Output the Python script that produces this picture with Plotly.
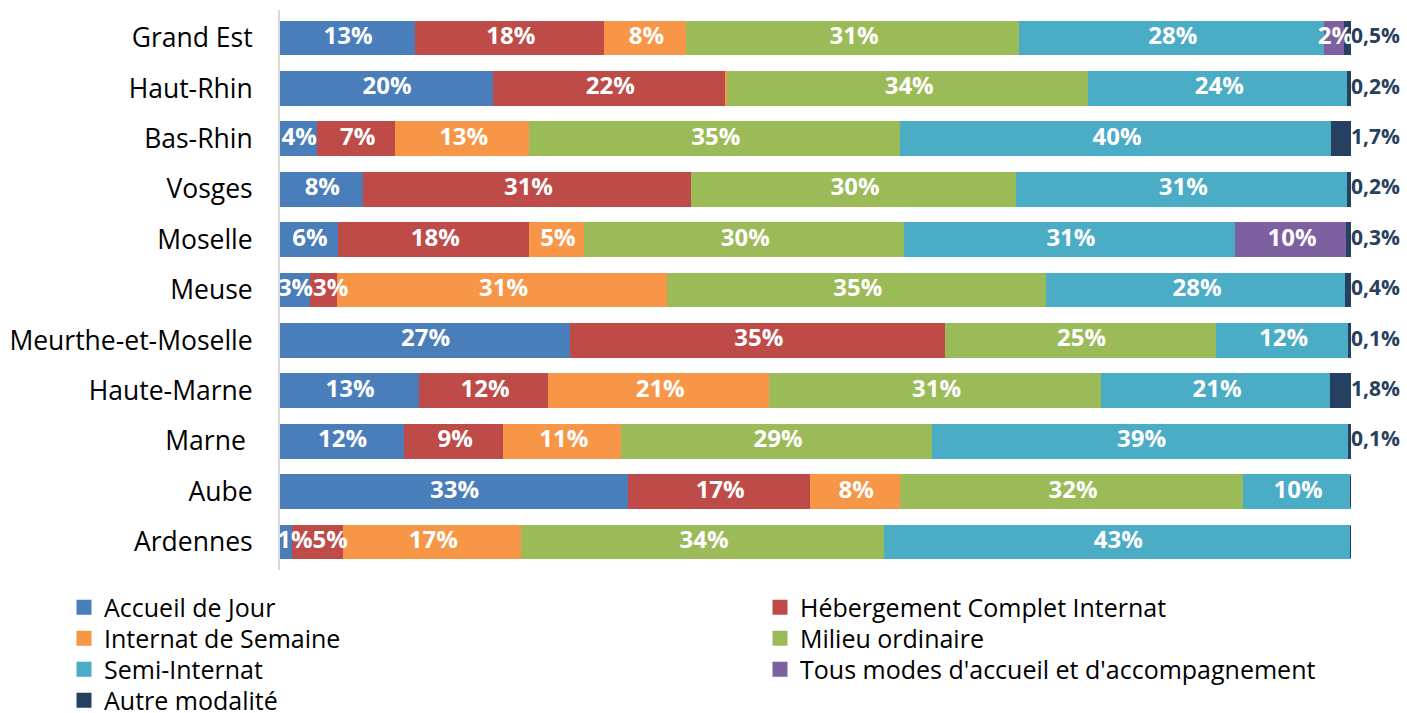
import plotly.graph_objects as go

categories = ["Grand Est", "Haut-Rhin", "Bas-Rhin", "Vosges", "Moselle", "Meuse",
              "Meurthe-et-Moselle", "Haute-Marne", "Marne ", "Aube", "Ardennes"]

accueil_jour = [12.7, 20.0, 3.6, 7.9, 5.6, 2.9, 27.2, 13.1, 11.7, 32.6, 1.3]
hebergement = [17.6, 21.7, 7.3, 30.6, 17.8, 2.6, 35.0, 12.1, 9.3, 17.0, 4.7]
internat_semaine = [7.7, 0.2, 12.5, 0.0, 5.1, 30.7, 0.0, 20.6, 11.0, 8.4, 16.6]
milieu_ordinaire = [31.0, 33.7, 34.6, 30.4, 29.9, 35.4, 25.3, 31.0, 29.0, 32.1, 33.9]
semi_internat = [28.4, 24.2, 40.3, 30.9, 30.9, 27.9, 12.4, 21.4, 38.9, 9.9, 43.4]
tous_modes = [1.9, 0.0, 0.0, 0.0, 10.4, 0.0, 0.0, 0.0, 0.0, 0.0, 0.0]
autre = [0.5, 0.2, 1.7, 0.2, 0.3, 0.4, 0.1, 1.8, 0.1, 0.0, 0.0]

# name, values, colour, legend grid slot (column, row)
series = [
    ("Accueil de Jour", accueil_jour, "#4A7EBB", (0, 0)),
    ("Hébergement Complet Internat", hebergement, "#BE4B48", (1, 0)),
    ("Internat de Semaine", internat_semaine, "#F79646", (0, 1)),
    ("Milieu ordinaire", milieu_ordinaire, "#9BBB59", (1, 1)),
    ("Semi-Internat", semi_internat, "#4BACC6", (0, 2)),
    ("Tous modes d'accueil et d'accompagnement", tous_modes, "#7D60A0", (1, 2)),
    ("Autre modalité", autre, "#254061", (0, 3)),
]

FONT = "Open Sans"
W, H = 1407, 713
MARGIN_L, MARGIN_R = 280, 56
PLOT_W = W - MARGIN_L - MARGIN_R
LEG_X = [104 - 40, 800 - 40]      # px, left of legend entries (text starts 40px later)
LEG_Y0, LEG_DY = 607.5, 31        # px, centre of first legend row and row pitch


def label_width(t):
    """Approximate width of a bold 24px label, in axis units (0-100)."""
    px = (len(t) - 1) * 13.7 + 21.5
    return px * 100.0 / PLOT_W


# 100 % stacked: each category is scaled so that its segments add up to 100
totals = [sum(s[1][i] for s in series) for i in range(len(categories))]


def share(vals):
    return [v * 100.0 / t for v, t in zip(vals, totals)]


def pct_label(v):
    return f"{int(v + 0.5)}%" if v >= 1 else ""


fig = go.Figure()
legends = {}
cum = [0.0] * len(categories)
row_labels = [[] for _ in categories]
for k, (name, vals, color, (col, row)) in enumerate(series):
    sh = share(vals)
    lg = "legend" if k == 0 else f"legend{k + 1}"
    fig.add_trace(go.Bar(
        y=categories, x=sh, name=name, orientation="h",
        marker=dict(color=color, line=dict(width=3, color=color)),
        legend=lg, hoverinfo="skip",
    ))
    if name != "Autre modalité":
        for i, (v, s) in enumerate(zip(vals, sh)):
            t = pct_label(v)
            if t:
                row_labels[i].append([cum[i] + s / 2, t])
    cum = [round(c + s, 9) for c, s in zip(cum, sh)]
    legends[lg] = dict(
        orientation="v", font=dict(family=FONT, size=25, color="#000000"),
        xref="container", yref="container", xanchor="left", yanchor="middle",
        x=LEG_X[col] / W, y=1 - (LEG_Y0 + row * LEG_DY) / H,
        bgcolor="rgba(0,0,0,0)", borderwidth=0, itemclick=False,
    )

# keep labels inside the axis on the left and side by side when segments are tiny
lab_x, lab_y, lab_t = [], [], []
for i, labs in enumerate(row_labels):
    prev = None
    for lab in labs:
        x, t = lab
        x = max(x, label_width(t) / 2 * 0.85)
        if prev is not None:
            x = max(x, prev[0] + (label_width(prev[1]) + label_width(t)) / 2)
        prev = (x, t)
        lab_x.append(x)
        lab_y.append(categories[i])
        lab_t.append(t)

# inside labels (white, bold) drawn above every bar
fig.add_trace(go.Scatter(
    x=lab_x, y=lab_y, text=lab_t, mode="text", textposition="middle center",
    textfont=dict(family=FONT, size=24, color="white", weight="bold"),
    showlegend=False, cliponaxis=False, hoverinfo="skip",
))

# "Autre modalité" labels, right of each bar
out_idx = [i for i, v in enumerate(autre) if v > 0]
fig.add_trace(go.Scatter(
    x=[min(cum[i], 100.0) for i in out_idx], y=[categories[i] for i in out_idx],
    text=[f"{autre[i]:.1f}%".replace(".", ",") for i in out_idx],
    mode="text", textposition="middle right",
    textfont=dict(family=FONT, size=21, color="#283F5E", weight="bold"),
    showlegend=False, cliponaxis=False, hoverinfo="skip",
))

fig.update_layout(
    width=W, height=H,
    barmode="stack", bargap=0.37,
    plot_bgcolor="white", paper_bgcolor="white",
    margin=dict(l=MARGIN_L, r=MARGIN_R, t=10, b=143, autoexpand=False),
    xaxis=dict(visible=False, range=[0, 100], fixedrange=True),
    yaxis=dict(
        autorange="reversed", showline=True, linecolor="#D9D9D9", linewidth=2,
        ticks="", showgrid=False, ticklabelstandoff=20, fixedrange=True,
        tickfont=dict(family=FONT, size=26.5, color="#000000"),
    ),
    showlegend=True,
    **legends,
)

fig.write_html("out.html", config={"displayModeBar": False},
               post_script="document.body.style.margin='0';")
